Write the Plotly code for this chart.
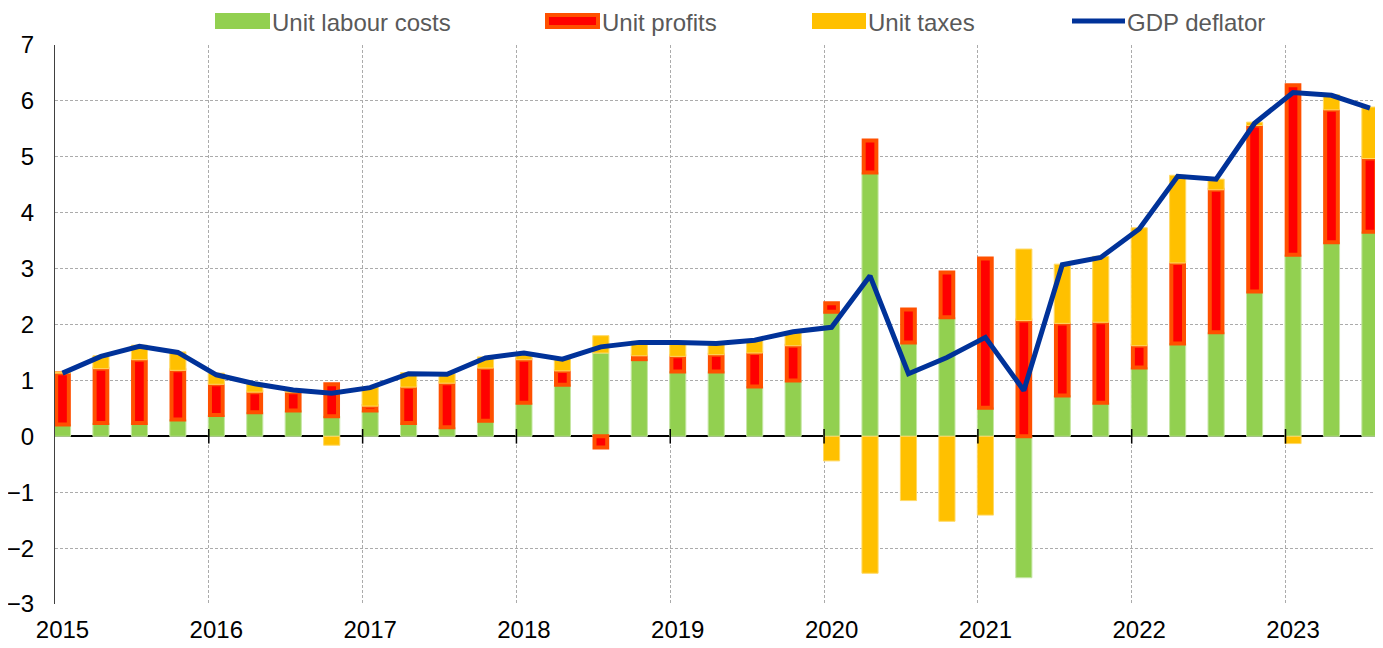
import plotly.graph_objects as go

years = [2015, 2016, 2017, 2018, 2019, 2020, 2021, 2022, 2023]
quarters = [f"{y}Q{q}" for y in years for q in range(1, 5)][:35]

unit_labour_costs = [0.21, 0.24, 0.24, 0.30, 0.38, 0.43, 0.46, 0.36,
                     0.46, 0.24, 0.16, 0.28, 0.60, 0.92, 1.49, 1.38,
                     1.16, 1.16, 0.89, 1.00, 2.23, 4.72, 1.68, 2.13,
                     0.51, -2.53, 0.73, 0.60, 1.23, 1.66, 1.86, 2.59,
                     3.25, 3.47, 3.66]
unit_profits = [0.92, 0.97, 1.13, 0.88, 0.55, 0.36, 0.33, 0.57,
                0.08, 0.64, 0.79, 0.94, 0.77, 0.25, -0.20, 0.06,
                0.27, 0.30, 0.60, 0.62, 0.15, 0.57, 0.59, 0.80,
                2.67, 2.07, 1.29, 1.44, 0.39, 1.44, 2.55, 2.97,
                3.03, 2.37, 1.31]
unit_taxes = [0.02, 0.23, 0.26, 0.33, 0.20, 0.16, 0.04, -0.16,
              0.35, 0.26, 0.17, 0.20, 0.11, 0.23, 0.31, 0.26,
              0.25, 0.18, 0.22, 0.25, -0.44, -2.45, -1.15, -1.52,
              -1.41, 1.28, 1.06, 1.18, 2.11, 1.57, 0.19, 0.06,
              -0.13, 0.27, 0.92]
gdp_deflator = [1.13, 1.43, 1.61, 1.50, 1.10, 0.94, 0.83, 0.77,
                0.87, 1.12, 1.11, 1.40, 1.49, 1.38, 1.60, 1.68,
                1.68, 1.66, 1.72, 1.87, 1.95, 2.87, 1.12, 1.41,
                1.77, 0.82, 3.07, 3.20, 3.71, 4.65, 4.60, 5.60,
                6.15, 6.10, 5.87]
series_names = ["Unit labour costs", "Unit profits", "Unit taxes", "GDP deflator"]

x = list(range(len(quarters)))
year_ticks = [i for i, q in enumerate(quarters) if q.endswith("Q1")]
year_labels = [q[:4] for q in quarters if q.endswith("Q1")]
grid_offset = 0.195
year_grid = [t - grid_offset for t in year_ticks]

FONT = "Arial, Liberation Sans, sans-serif"
FS = 24
GREEN = "#92D050"
RED = "#FF0000"
RED_EDGE = "#FF5000"
YELLOW = "#FFC000"
BLUE = "#003299"
BAR_W = 0.42

# the page body has an 8px margin; target plot box in page pixels
OFF = 8
PL, PR, PT, PB = 55, 1378, 45, 604
W, H = 1383 - OFF, 648 - OFF
ML, MT = PL - OFF, PT - OFF
MR, MB = OFF + W - PR, OFF + H - PB

fig = go.Figure()
fig.add_trace(go.Bar(x=x, y=unit_labour_costs, name=series_names[0],
                     width=BAR_W, marker=dict(color=GREEN, line=dict(color="#C6E6A4", width=1))))
fig.add_trace(go.Bar(x=x, y=unit_profits, name=series_names[1],
                     width=BAR_W - 0.09, marker=dict(color=RED, line=dict(color=RED_EDGE, width=4))))
fig.add_trace(go.Bar(x=x, y=unit_taxes, name=series_names[2],
                     width=BAR_W, marker=dict(color=YELLOW, line=dict(color="#FFD966", width=1))))
fig.add_trace(go.Scatter(x=x, y=gdp_deflator, name=series_names[3], mode="lines",
                         line=dict(color=BLUE, width=5)))

# small tick marks crossing the zero line at year boundaries
for g in year_grid[1:]:
    fig.add_shape(type="line", xref="x", yref="y", x0=g, x1=g, y0=-0.13, y1=0.13,
                  line=dict(color="#000000", width=1.5), layer="above")

# custom legend (wide swatches), positioned in page pixels
def px_x(p):
    return (p - PL) / (PR - PL)
def px_y(p):
    return (PB - p) / (PB - PT)

LEG_Y = 21
legend_items = [
    (215, 270, "box", GREEN, None),
    (545, 600, "box", RED, RED_EDGE),
    (812, 866, "box", YELLOW, None),
    (1072, 1125, "line", BLUE, None),
]
for (a, b, kind, col, edge), name in zip(legend_items, series_names):
    if kind == "box":
        if edge:
            fig.add_shape(type="rect", xref="paper", yref="paper",
                          x0=px_x(a + 2), x1=px_x(b - 2), y0=px_y(LEG_Y + 6), y1=px_y(LEG_Y - 6),
                          fillcolor=col, line=dict(color=edge, width=4))
        else:
            fig.add_shape(type="rect", xref="paper", yref="paper",
                          x0=px_x(a), x1=px_x(b), y0=px_y(LEG_Y + 8), y1=px_y(LEG_Y - 8),
                          fillcolor=col, line=dict(width=0))
    else:
        fig.add_shape(type="line", xref="paper", yref="paper",
                      x0=px_x(a), x1=px_x(b), y0=px_y(LEG_Y), y1=px_y(LEG_Y),
                      line=dict(color=col, width=5))
    fig.add_annotation(xref="paper", yref="paper", x=px_x(b + 1), y=px_y(LEG_Y + 1),
                       xanchor="left", yanchor="middle", text=name, showarrow=False,
                       borderpad=0,
                       font=dict(family=FONT, size=FS, color="#595959"))

fig.update_layout(
    barmode="relative",
    width=W, height=H,
    margin=dict(l=ML, r=MR, t=MT, b=MB, autoexpand=False),
    plot_bgcolor="white", paper_bgcolor="white",
    font=dict(family=FONT, size=FS, color="#000000"),
    showlegend=False,
)
fig.update_xaxes(
    range=[-grid_offset, len(quarters) - 1 + 0.21],
    tickmode="array", tickvals=year_ticks, ticktext=year_labels,
    showgrid=False, ticks="", ticklabelstandoff=9,
    tickfont=dict(family=FONT, size=FS, color="#000000"),
    minor=dict(tickmode="array", tickvals=year_grid, showgrid=True,
               gridcolor="#ABABAB", griddash="3px,2px", gridwidth=1, ticks=""),
    zeroline=False, showline=False,
)
fig.update_yaxes(
    range=[-3, 7], dtick=1, tick0=0,
    showgrid=True, gridcolor="#ABABAB", griddash="3px,2px", gridwidth=1,
    zeroline=True, zerolinecolor="#000000", zerolinewidth=1.5,
    showline=True, linecolor="#404040", linewidth=1,
    ticks="", ticklabelstandoff=15,
    tickfont=dict(family=FONT, size=FS, color="#000000"),
)

fig.write_html("out.html")
